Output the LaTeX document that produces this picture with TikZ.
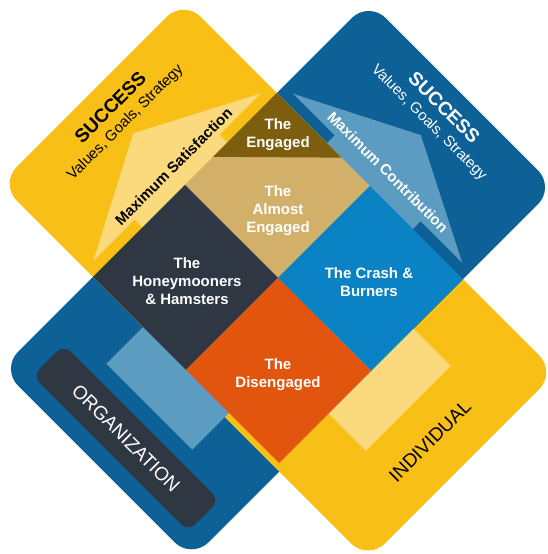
\documentclass[tikz,border=0pt]{standalone}
\usepackage{fontspec}
\setmainfont{Liberation Sans}

\definecolor{gold}{HTML}{F8BF16}
\definecolor{paleGold}{HTML}{FBDA7E}
\definecolor{navy}{HTML}{0D6196}
\definecolor{paleBlue}{HTML}{5C9CC0}
\definecolor{olive}{HTML}{7D5E0F}
\definecolor{tan}{HTML}{D2B06A}
\definecolor{slate}{HTML}{2F3742}
\definecolor{sky}{HTML}{0A82C4}
\definecolor{rust}{HTML}{E2550F}

\tikzset{
  tag/.style={align=center, text=white, font=\bfseries\fontsize{15}{18}\selectfont},
  motto/.style={align=center, font=\fontsize{15}{19}\selectfont},
  side/.style={font=\fontsize{19}{22}\selectfont}
}
\newcommand{\succhead}{{\bfseries\fontsize{19}{19}\selectfont SUCCESS}}

\begin{document}
\begin{tikzpicture}[x=1pt, y=1.013pt]
                \useasboundingbox (-278pt,-276pt) rectangle (269pt,278pt);

                % --- everything below is laid out on the 45 degree grid ---
                \begin{scope}[rotate=45]
                    % big rounded tiles
                    \fill[navy, rounded corners=24pt] (-260,-136) rectangle (0,130);
                    \fill[gold, rounded corners=24pt] (-136,-260) rectangle (130,0);
                    \fill[gold, rounded corners=24pt] (-130,0) rectangle (130,260);
                    \fill[navy, rounded corners=24pt] (0,-130) rectangle (260,130);

                    % the two broad arrows (their middle is hidden by the core)
                    \fill[paleGold] (-60,-182) -- (60,-182) -- (60,141) -- (118,141)
                        -- (0,202) -- (-118,141) -- (-60,141) -- cycle;
                    \fill[paleBlue] (-182,60) -- (-182,-60) -- (141,-60) -- (141,-118)
                        -- (202,0) -- (141,118) -- (141,60) -- cycle;

                    % core of four squares
                    \fill[tan] (0,0) rectangle (130,130);
                    \fill[olive] (130,130) -- (130,39.7) -- (39.7,130) -- cycle;
                    \fill[slate] (-130,0) rectangle (0,130);
                    \fill[sky] (0,-130) rectangle (130,0);
                    \fill[rust] (-130,-130) rectangle (0,0);
                \end{scope}

                % labels of the core
                \node[tag] (engaged) at (0,141.7) {The\\Engaged};
                \node[tag] (almost) at (0,66.6) {The\\Almost\\Engaged};
                \node[tag] (honey) at (-91,-3) {The\\Honeymooners\\\& Hamsters};
                \node[tag] (crash) at (91,-4) {The Crash \&\\Burners};
                \node[tag] (diseng) at (0,-95.8) {The\\Disengaged};

                % success corners
                \node[motto, rotate=45] (succL) at (-160,161) {\succhead\\Values, Goals, Strategy};
                \node[motto, text=white, rotate=-45] (succR) at (158.5,160.5) {\succhead\\Values, Goals, Strategy};

                % arrow captions
                \node[tag, text=black, rotate=45] (satis) at (-104.5,110) {Maximum Satisfaction};
                \node[tag, rotate=-45] (contrib) at (110,104.6) {Maximum Contribution};

                % the two sides
                \node[side, text=white, fill=slate, rounded corners=10pt, rotate=-45,
                      minimum width=220, minimum height=44] (org) at (-152,-158) {ORGANIZATION};
                \node[side, rotate=45] (indiv) at (152,-161) {INDIVIDUAL};
\end{tikzpicture}
\end{document}
